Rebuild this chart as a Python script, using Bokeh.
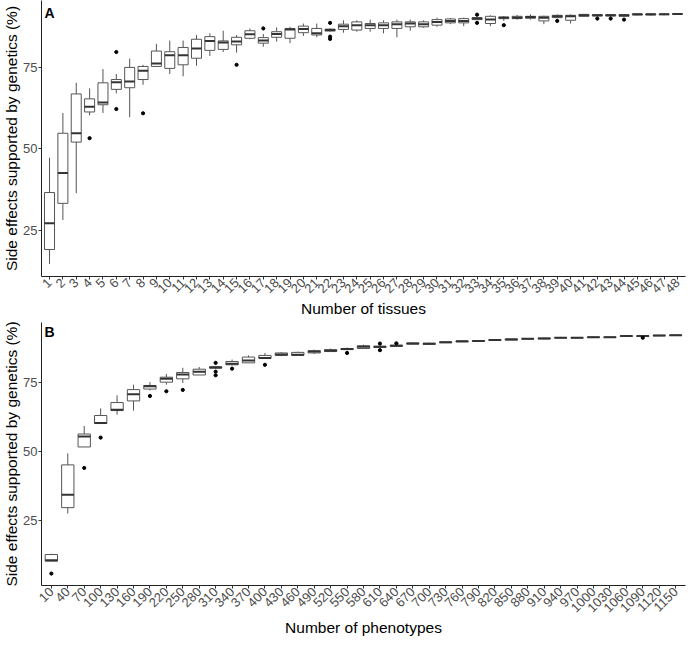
import math
import numpy as np
from bokeh.plotting import figure
from bokeh.layouts import column
from bokeh.models import Range1d, FixedTicker, Label
from bokeh.embed import file_html
from bokeh.resources import INLINE

# ---------------- Panel A: number of tissues ----------------
tissue_labels = ["1", "2", "3", "4", "5", "6", "7", "8", "9", "10", "11", "12",
                 "13", "14", "15", "16", "17", "18", "19", "20", "21", "22", "23", "24",
                 "25", "26", "27", "28", "29", "30", "31", "32", "33", "34", "35", "36",
                 "37", "38", "39", "40", "41", "42", "43", "44", "45", "46", "47", "48"]
tissue_q1 = [19.3, 33.4, 52.1, 61.3, 63.5, 68.2, 68.7, 71.2, 75.2, 74.6, 75.7, 77.7,
             80.1, 80.4, 81.8, 83.8, 82.3, 84.1, 83.8, 85.5, 84.8, 86.0, 86.5, 86.3,
             86.8, 86.8, 86.8, 87.3, 87.3, 87.8, 88.5, 88.5, 89.5, 88.3, 89.8, 89.8,
             89.9, 89.1, 90.1, 89.3, 90.5, 90.6, 90.6, 90.5, 90.9, 90.9, 91.0, 91.1]
tissue_med = [27.3, 42.7, 54.8, 62.9, 64.2, 70.4, 70.6, 73.9, 76.1, 78.6, 78.6, 80.7,
              83.0, 82.5, 82.8, 85.0, 83.1, 85.1, 86.5, 86.6, 85.3, 86.3, 87.5, 87.8,
              87.8, 87.8, 88.1, 88.3, 88.1, 88.8, 89.1, 89.1, 89.8, 89.5, 90.1, 90.1,
              90.3, 90.1, 90.5, 90.5, 90.8, 90.8, 90.8, 90.8, 91.1, 91.1, 91.1, 91.2]
tissue_q3 = [36.7, 54.8, 66.8, 65.3, 70.2, 71.2, 74.9, 75.2, 79.9, 79.7, 81.0, 83.5,
             84.3, 83.0, 84.1, 86.1, 84.0, 85.8, 86.8, 87.5, 86.8, 86.6, 88.1, 88.8,
             88.3, 88.5, 88.8, 88.8, 88.8, 89.5, 89.7, 89.8, 90.1, 90.5, 90.3, 90.5,
             90.5, 90.5, 90.8, 90.8, 91.1, 91.0, 91.0, 91.0, 91.2, 91.2, 91.2, 91.3]
tissue_lo = [14.9, 28.3, 36.5, 60.3, 61.0, 67.0, 59.7, 69.6, 75.2, 72.9, 72.2, 75.4,
             78.4, 79.6, 79.4, 83.5, 81.2, 82.8, 82.3, 84.5, 84.1, 85.8, 85.5, 85.8,
             85.8, 85.3, 84.1, 86.1, 87.0, 87.3, 88.1, 87.5, 89.3, 87.5, 89.1, 89.5,
             89.5, 88.1, 89.9, 88.3, 90.3, 90.4, 90.4, 90.3, 90.8, 90.7, 90.8, 91.0]
tissue_hi = [47.3, 61.0, 70.2, 68.5, 74.4, 72.9, 77.6, 75.7, 82.1, 83.1, 83.1, 84.8,
             85.3, 86.1, 84.8, 86.8, 85.1, 87.1, 87.3, 88.3, 88.3, 86.8, 89.3, 89.3,
             89.5, 89.3, 89.5, 89.5, 89.3, 90.1, 90.0, 90.1, 90.3, 90.8, 90.6, 90.9,
             91.1, 90.7, 91.1, 91.1, 91.2, 91.1, 91.2, 91.2, 91.3, 91.3, 91.5, 91.4]
tissue_out_cat = ["4", "6", "6", "8", "15", "17", "22", "22", "22", "33", "33",
                  "35", "39", "42", "43", "44"]
tissue_out_val = [53.3, 79.6, 62.2, 60.9, 75.7, 86.8, 88.5, 84.3, 83.6, 91.0, 88.5,
                  87.8, 89.1, 89.8, 89.8, 89.5]

# ---------------- Panel B: number of phenotypes ----------------
pheno_labels = ["10", "40", "70", "100", "130", "160", "190", "220", "250", "280",
                "310", "340", "370", "400", "430", "460", "490", "520", "550", "580",
                "610", "640", "670", "700", "730", "760", "790", "820", "850", "880",
                "910", "940", "970", "1000", "1030", "1060", "1090", "1120", "1150"]
pheno_q1 = [10.2, 29.6, 51.6, 60.1, 64.8, 68.3, 72.6, 75.1, 76.3, 77.7,
            80.2, 81.4, 82.1, 83.8, 84.8, 84.8, 85.7, 86.2, 86.9, 87.3,
            87.7, 88.1, 88.9, 88.8, 89.4, 89.7, 89.9, 90.2, 90.4, 90.7,
            90.8, 91.1, 91.1, 91.3, 91.3, 91.7, 91.7, 91.9, 92.0]
pheno_med = [10.5, 34.3, 55.4, 60.3, 65.1, 70.7, 73.6, 76.3, 77.9, 78.9,
             80.4, 81.8, 83.0, 83.9, 85.1, 85.0, 86.2, 86.5, 87.1, 87.9,
             87.9, 88.3, 89.1, 89.0, 89.6, 89.9, 90.0, 90.4, 90.6, 90.8,
             90.9, 91.2, 91.2, 91.4, 91.4, 91.8, 91.8, 92.0, 92.1]
pheno_q3 = [12.6, 45.1, 56.3, 63.0, 67.7, 72.4, 73.9, 76.9, 78.6, 79.8,
            80.7, 82.6, 84.2, 84.8, 85.7, 85.9, 86.5, 86.9, 87.3, 88.3,
            88.1, 88.5, 89.3, 89.2, 89.7, 90.0, 90.2, 90.5, 90.8, 90.9,
            91.1, 91.3, 91.3, 91.5, 91.5, 91.9, 91.9, 92.1, 92.2]
pheno_lo = [10.2, 27.5, 51.6, 60.1, 63.3, 64.8, 72.1, 74.2, 74.8, 77.7,
            79.9, 81.2, 82.1, 83.5, 84.5, 84.8, 85.3, 86.0, 86.7, 87.1,
            87.5, 87.9, 88.7, 88.7, 89.3, 89.6, 89.8, 90.1, 90.3, 90.6,
            90.7, 91.0, 91.0, 91.2, 91.3, 91.6, 91.6, 91.8, 91.9]
pheno_hi = [12.9, 49.3, 59.2, 65.6, 70.3, 74.2, 75.1, 78.1, 80.3, 80.6,
            81.0, 83.3, 84.8, 85.7, 86.0, 86.2, 86.9, 87.3, 87.7, 88.7,
            88.3, 88.7, 89.5, 89.4, 89.9, 90.2, 90.3, 90.7, 90.9, 91.0,
            91.2, 91.5, 91.3, 91.6, 91.5, 91.9, 92.0, 92.2, 92.4]
pheno_out_cat = ["10", "70", "100", "190", "220", "250", "310", "310", "310",
                 "340", "400", "550", "610", "610", "640", "1090"]
pheno_out_val = [5.7, 44.0, 55.0, 70.1, 71.8, 72.3, 82.1, 78.9, 77.6,
                 80.0, 81.4, 85.7, 89.1, 86.7, 89.2, 91.2]

FONT = "Liberation Sans"
BOX_LINE = "#555555"
MED_LINE = "#333333"


def make_panel(labels, q1, med, q3, lo, hi, out_cat, out_val, xlabel, tag,
               frame_h, bottom_border, tag_dy):
    n = len(labels)
    xs = np.arange(1, n + 1)
    pos = {lab: i + 1 for i, lab in enumerate(labels)}
    ox = [pos[c] for c in out_cat]
    allv = list(lo) + list(hi) + list(out_val)
    ymin, ymax = min(allv), max(allv)
    pad = 0.05 * (ymax - ymin)

    p = figure(frame_width=644, frame_height=frame_h,
               x_range=Range1d(0.4, n + 0.6),
               y_range=Range1d(ymin - pad, ymax + pad),
               output_backend="svg", toolbar_location=None,
               min_border_left=38, min_border_right=2,
               min_border_top=0, min_border_bottom=bottom_border)
    p.xgrid.visible = False
    p.ygrid.visible = False
    p.outline_line_color = None
    p.background_fill_color = "white"

    bw = 0.75
    q1a, q3a = np.array(q1), np.array(q3)
    p.segment(x0=xs, y0=q3a, x1=xs, y1=np.array(hi), line_color=BOX_LINE, line_width=1)
    p.segment(x0=xs, y0=q1a, x1=xs, y1=np.array(lo), line_color=BOX_LINE, line_width=1)
    p.vbar(x=xs, width=bw, bottom=q1a, top=q3a, fill_color="white",
           line_color=BOX_LINE, line_width=1)
    p.segment(x0=xs - bw / 2, y0=med, x1=xs + bw / 2, y1=med,
              line_color=MED_LINE, line_width=2)
    p.scatter(x=ox, y=out_val, size=3.2, color="black")

    p.yaxis.ticker = FixedTicker(ticks=[25, 50, 75])
    p.xaxis.ticker = FixedTicker(ticks=[int(v) for v in xs])
    p.xaxis.major_label_overrides = {int(i + 1): lab for i, lab in enumerate(labels)}
    p.xaxis.major_label_orientation = math.pi / 4

    for ax in (p.xaxis[0], p.yaxis[0]):
        ax.axis_line_color = "#222222"
        ax.axis_line_width = 1
        ax.major_tick_line_color = "#333333"
        ax.major_tick_out = 3
        ax.major_tick_in = 0
        ax.minor_tick_line_color = None
        ax.major_label_text_font = FONT
        ax.major_label_text_font_size = "13px"
        ax.major_label_text_color = "#4d4d4d"
        ax.major_label_standoff = 1
        ax.axis_label_text_font = FONT
        ax.axis_label_text_font_size = "15.5px"
        ax.axis_label_text_font_style = "normal"
        ax.axis_label_text_color = "black"
        ax.axis_label_standoff = 0

    p.xaxis.axis_label = xlabel
    p.yaxis.axis_label = "Side effects supported by genetics (%)"

    p.add_layout(Label(x=0.4, y=ymax + pad, x_offset=3, y_offset=tag_dy, text=tag,
                       text_font=FONT, text_font_size="14px", text_font_style="bold",
                       text_color="black", text_baseline="top", text_align="left"))
    return p


pA = make_panel(tissue_labels, tissue_q1, tissue_med, tissue_q3, tissue_lo, tissue_hi,
                tissue_out_cat, tissue_out_val, "Number of tissues", "A", 276, 46, -4)
pB = make_panel(pheno_labels, pheno_q1, pheno_med, pheno_q3, pheno_lo, pheno_hi,
                pheno_out_cat, pheno_out_val, "Number of phenotypes", "B", 263, 54, -1)

layout = column(pA, pB, spacing=0)
open("out.html", "w").write(file_html(layout, INLINE))
